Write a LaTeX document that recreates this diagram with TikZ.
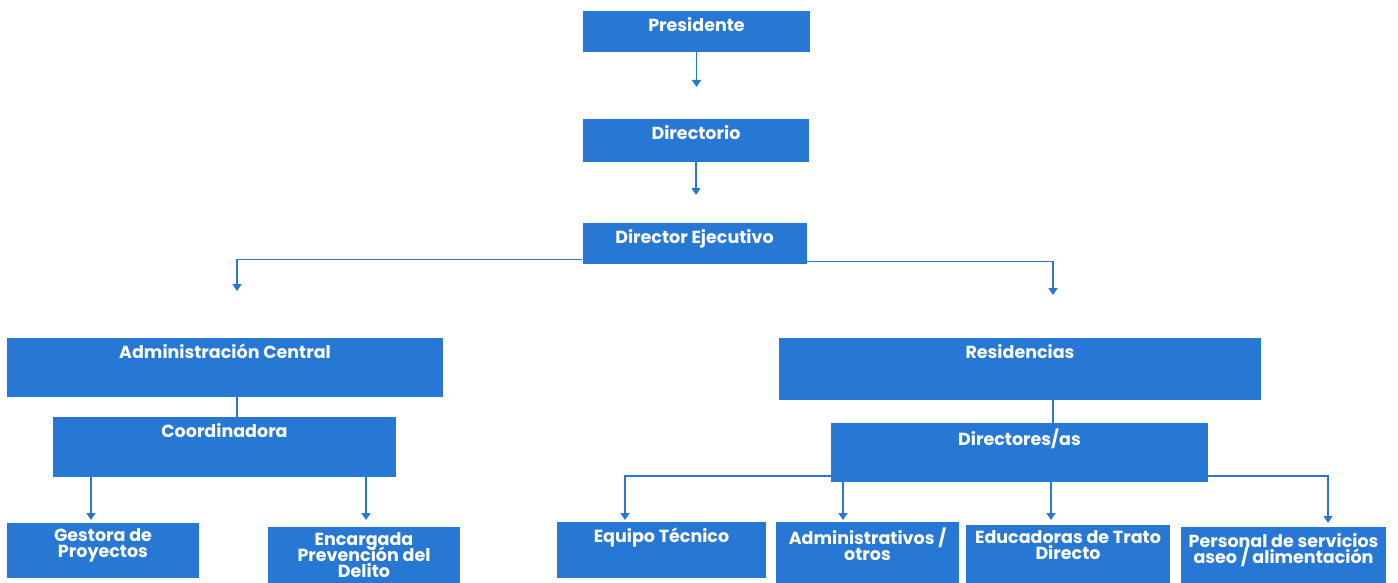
\documentclass[tikz,border=0pt]{standalone}
\usepackage{fontspec}
\setmainfont{Poppins}
\usetikzlibrary{arrows.meta,positioning}

\definecolor{orgblue}{RGB}{38,120,212}
\AtBeginDocument{\setlength{\lineskiplimit}{-20pt}}

\tikzset{
  unit/.style args={#1/#2}{fill=orgblue, minimum width=#1pt, minimum height=#2pt, inner sep=0pt},
  head/.style={text=white, font=\bfseries\fontsize{17.5}{16}\selectfont, align=center, anchor=north, inner sep=0pt, yshift=-6pt},
  link/.style={draw=orgblue, line width=1.8pt},
  arr/.style={link, -{Triangle[width=9pt,length=7pt]}},
}

\begin{document}
\begin{tikzpicture}[x=1pt,y=-1pt]
  \useasboundingbox (0,0) rectangle (1398,583);

  % arrow ends
  \coordinate (adm-in) at (237,291);
  \coordinate (res-in) at (1053,295);
  \coordinate (gest-in) at (91,520);
  \coordinate (enc-in) at (366,520);
  \coordinate (equ-in) at (625,520);
  \coordinate (aot-in) at (843,520);
  \coordinate (edu-in) at (1051,520);
  \coordinate (pers-in) at (1328,523);

  \node[unit=227/41, label={[head]north:Presidente}] (pres) at (696.5,31.5) {};
  \node[unit=226/43, label={[head]north:Directorio}] (dir) at (696,140.5) {};
  \node[unit=224/41, label={[head]north:Director Ejecutivo}] (dej) at (694.5,243.5) {};

  \node[unit=436/59, label={[head]north:Administración Central}] (adm) at (225,367.5) {};
  \node[unit=343/60, label={[head]north:Coordinadora}] (coord) at (224.5,447) {};
  \node[unit=192/55, label={[head]north:Gestora de\\Proyectos}] (gest) at (103,550.5) {};
  \node[unit=192/60, label={[head]north:Encargada\\Prevención del\\Delito}] (enc) at (364,557) {};

  \node[unit=482/62, label={[head]north:Residencias}] (res) at (1020,369) {};
  \node[unit=377/59, label={[head]north:Directores/as}] (dirs) at (1019.5,452.5) {};
  \node[unit=209/56, label={[head]north:Equipo Técnico}] (equ) at (661.5,550) {};
  \node[unit=183/63, label={[head]north:Administrativos /\\otros}] (aot) at (867.5,553.5) {};
  \node[unit=204/60, label={[head]north:Educadoras de Trato\\Directo}] (edu) at (1068,555) {};
  \node[unit=205/58, label={[head]north:Personal de servicios\\aseo / alimentación}] (pers) at (1283.5,556) {};

  \draw[arr] (pres.south) -- (pres.south |- 0,87);
  \draw[arr] (dir.south) -- (dir.south |- 0,195);
  \draw[arr] ([yshift=-16pt]dej.west) -| (adm-in);
  \draw[arr] ([yshift=-18pt]dej.east) -| (res-in);

  \draw[link] ([xshift=12pt]adm.south) -- ([xshift=12pt]adm.south |- coord.north);
  \draw[arr] (coord.south -| gest-in) -- (gest-in);
  \draw[arr] (coord.south -| enc-in) -- (enc-in);

  \draw[link] (res.south -| res-in) -- (dirs.north -| res-in);
  \draw[arr] ([yshift=6pt]dirs.south west) -| (equ-in);
  \draw[arr] (dirs.south -| aot-in) -- (aot-in);
  \draw[arr] (dirs.south -| edu-in) -- (edu-in);
  \draw[arr] ([yshift=6pt]dirs.south east) -| (pers-in);
\end{tikzpicture}
\end{document}
